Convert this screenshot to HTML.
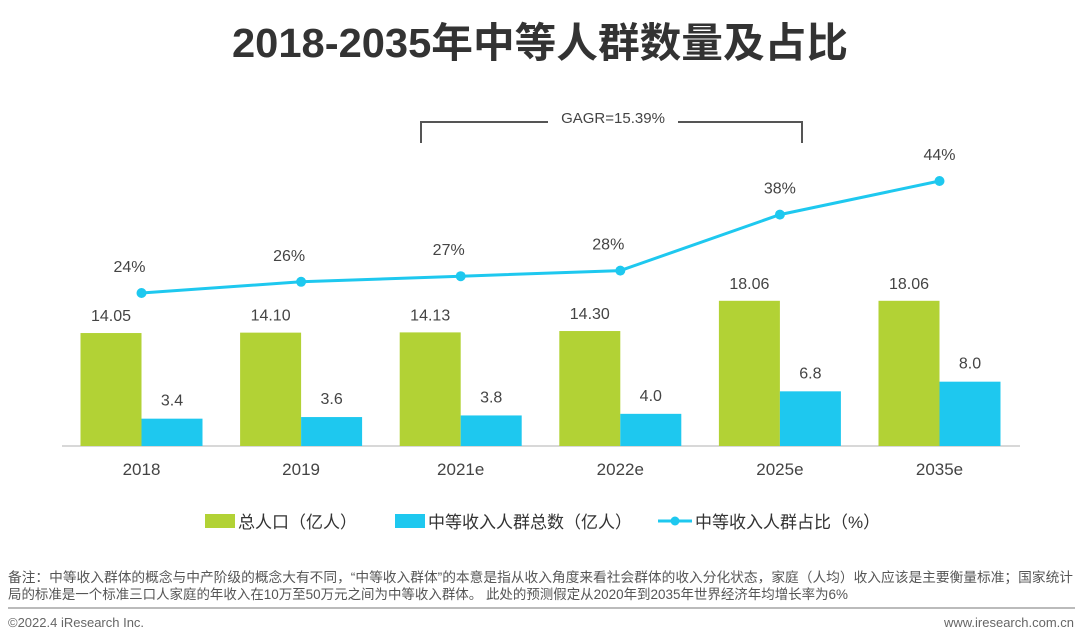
<!DOCTYPE html>
<html><head><meta charset="utf-8"><style>
body{margin:0;background:#fff;width:1080px;height:642px;overflow:hidden;font-family:"Liberation Sans","Noto Sans CJK SC",sans-serif}
svg{display:block}
</style></head><body>
<svg width="1080" height="642">
<text x="232" y="57" textLength="616" lengthAdjust="spacingAndGlyphs" font-size="41" font-weight="bold" fill="#333" font-family="Liberation Sans, Noto Sans CJK SC, sans-serif">2018-2035年中等人群数量及占比</text>
<g>
<path d="M421 143 V122 H548 M678 122 H802 V143" fill="none" stroke="#555" stroke-width="2"/>
<text x="613" y="123" text-anchor="middle" font-size="15" fill="#444">GAGR=15.39%</text>
</g>
<line x1="62" y1="446" x2="1020" y2="446" stroke="#ccc" stroke-width="1.5"/>
<g id="plot"></g>
<g font-size="17" fill="#333">
<rect x="205" y="514" width="30" height="14" fill="#b2d235"/>
<text x="238" y="528">总人口（亿人）</text>
<rect x="395" y="514" width="30" height="14" fill="#1ec8ef"/>
<text x="428" y="528">中等收入人群总数（亿人）</text>
<line x1="658" y1="521" x2="692" y2="521" stroke="#1ec8ef" stroke-width="3"/>
<circle cx="675" cy="521" r="4.5" fill="#1ec8ef"/>
<text x="695" y="528">中等收入人群占比（%）</text>
</g>
<g font-size="13.5" fill="#555">
<text x="8" y="582" textLength="1065" lengthAdjust="spacingAndGlyphs">备注：中等收入群体的概念与中产阶级的概念大有不同，“中等收入群体”的本意是指从收入角度来看社会群体的收入分化状态，家庭（人均）收入应该是主要衡量标准；国家统计</text>
<text x="8" y="599" textLength="840" lengthAdjust="spacingAndGlyphs">局的标准是一个标准三口人家庭的年收入在10万至50万元之间为中等收入群体。 此处的预测假定从2020年到2035年世界经济年均增长率为6%</text>
</g>
<line x1="8" y1="608" x2="1075" y2="608" stroke="#bbb" stroke-width="2"/>
<text x="8" y="627" font-size="13" fill="#666">©2022.4 iResearch Inc.</text>
<text x="1074" y="627" font-size="13" fill="#666" text-anchor="end">www.iresearch.com.cn</text>
</svg>
<script>
const categories=["2018","2019","2021e","2022e","2025e","2035e"];
const totalPop=[14.05,14.10,14.13,14.30,18.06,18.06];
const totalLabels=["14.05","14.10","14.13","14.30","18.06","18.06"];
const middlePop=[3.4,3.6,3.8,4.0,6.8,8.0];
const middleLabels=["3.4","3.6","3.8","4.0","6.8","8.0"];
const sharePct=[24,26,27,28,38,44];
const NS="http://www.w3.org/2000/svg";
const g=document.getElementById('plot');
const x0=141.5,step=159.6,bw=61,base=446;
const xc=i=>x0+i*step;
const yBar=v=>base-v*8.04;
const yLine=v=>427.4-v*5.6;
function mk(t,a){const e=document.createElementNS(NS,t);for(const k in a)e.setAttribute(k,a[k]);g.appendChild(e);return e;}
categories.forEach((c,i)=>{
  let r=mk('rect',{x:xc(i)-bw,y:yBar(totalPop[i]),width:bw,height:base-yBar(totalPop[i]),fill:'#b2d235'});
  
  
  r=mk('rect',{x:xc(i),y:yBar(middlePop[i]),width:bw,height:base-yBar(middlePop[i]),fill:'#1ec8ef'});
  
  
  let t=mk('text',{x:xc(i)-bw/2,y:yBar(totalPop[i])-12,'text-anchor':'middle','font-size':16,fill:'#444'});
  t.textContent=totalLabels[i];
  
  
  t=mk('text',{x:xc(i)+bw/2,y:yBar(middlePop[i])-13,'text-anchor':'middle','font-size':16,fill:'#444'});
  t.textContent=middleLabels[i];
  
  
  t=mk('text',{x:xc(i),y:475,'text-anchor':'middle','font-size':17,fill:'#444'});
  t.textContent=c;
  
  
});
const pts=sharePct.map((v,i)=>xc(i)+','+yLine(v)).join(' ');
const pl=mk('polyline',{points:pts,fill:'none',stroke:'#1ec8ef','stroke-width':3});


sharePct.forEach((v,i)=>{
  const c=mk('circle',{cx:xc(i),cy:yLine(v),r:5,fill:'#1ec8ef'});
  
  
  const t=mk('text',{x:xc(i)-(i<4?12:0),y:yLine(v)-21,'text-anchor':'middle','font-size':16,fill:'#444'});
  t.textContent=v+'%';
  
  
});
</script>
</body></html>
